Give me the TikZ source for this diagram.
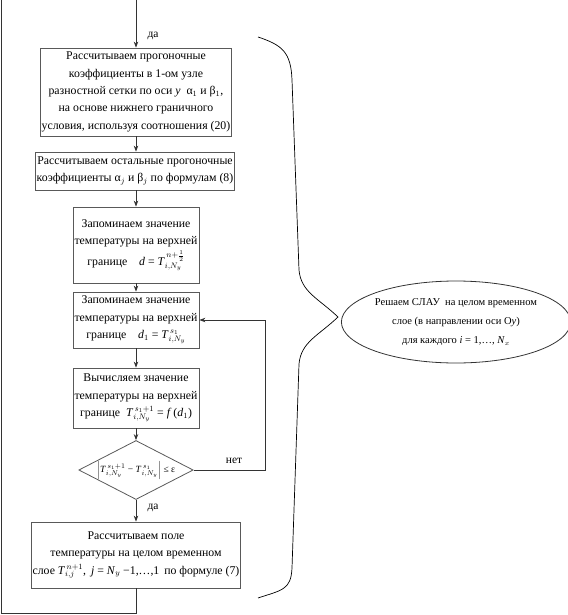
\documentclass[tikz,border=0pt]{standalone}
\usepackage{fontspec}
\setmainfont{Liberation Serif}
\usetikzlibrary{shapes.geometric,arrows.meta}
\begin{document}
\begin{tikzpicture}[x=1pt,y=-1pt,
  box/.style={draw=black!65, line width=0.8pt, align=center, inner sep=1pt,
    font=\fontsize{11.8}{17.4}\selectfont},
  conn/.style={draw=black!80, line width=0.8pt},
  arr/.style={conn, -{Stealth[length=6pt,width=4.5pt]}},
  lbl/.style={font=\fontsize{11.5}{12}\selectfont, inner sep=0pt}]
\useasboundingbox (0,0) rectangle (567,615);

\node[box, minimum width=188pt, minimum height=88pt] (b1) at (136,92)
 {Рассчитываем прогоночные\\коэффициенты в 1-ом узле\\разностной сетки по оси \textit{y}\enspace α$_1$ и β$_1$,\\на основе нижнего граничного\\условия, используя соотношения (20)};

\node[box, minimum width=196pt, minimum height=38pt] (b2) at (135,171)
 {Рассчитываем остальные прогоночные\\коэффициенты α$_j$ и β$_j$ по формулам (8)};

\node[box, minimum width=126pt, minimum height=76pt] (b3) at (136,245)
 {Запоминаем значение\\температуры на верхней\\[3pt]границе\quad \textit{d} = \textit{T}$^{\,n+\frac{1}{2}}_{i,N_y}$};

\node[box, minimum width=126pt, minimum height=56pt] (b4) at (136,320)
 {Запоминаем значение\\температуры на верхней\\границе\quad \textit{d}$_1$ = \textit{T}$^{\,s_1}_{i,N_y}$};

\node[box, minimum width=126pt, minimum height=60pt] (b5) at (136,398)
 {Вычисляем значение\\температуры на верхней\\границе\enspace \textit{T}$^{\,s_1+1}_{i,N_y}$ = \textit{f}\,(\textit{d}$_1$)};

\node[draw=black!65, line width=0.8pt, diamond, aspect=2, inner sep=0pt,
  minimum width=108pt, minimum height=59pt, font=\fontsize{9.5}{11}\selectfont] (dia) at (136,470)
 {$\left|\mbox{\textit{T}$^{\,s_1+1}_{i,N_y}$ − \textit{T}$^{\,s_1}_{i,N_y}$}\right|$ ≤ ε};

\node[box, minimum width=202pt, minimum height=66pt] (b6) at (136,555)
 {Рассчитываем поле\\температуры на целом временном\\слое \textit{T}$^{\,n+1}_{i,j}$, \,\textit{j} = \textit{N}$_y$ −1,…,1\, по формуле (7)};

\node[draw=black!80, line width=0.8pt, ellipse, inner sep=0pt, minimum width=218pt, minimum height=82pt,
  align=center, font=\fontsize{10.5}{19}\selectfont] (ell) at (456,322)
 {Решаем СЛАУ\enspace на целом временном\\слое (в направлении оси O\textit{y})\\для каждого \textit{i} = 1,…, \textit{N}$_x$};

% connectors
\coordinate (top) at (136,0);
\draw[arr] (top) -- (b1.north);
\node[lbl] (da1) at (153,36) {да};
\draw[arr] (b1.south) -- (b2.north -| b1.south);
\draw[arr] (b2.south -| b3.north) -- (b3.north);
\draw[arr] (b3.south) -- (b4.north);
\draw[arr] (b4.south) -- (b5.north);
\draw[arr] (b5.south) -- (dia.north);
\draw[arr] (dia.south) -- (b6.north);
\node[lbl] (da2) at (153,508) {да};

\coordinate (fbR) at (265,470);
\draw[arr] (dia.east) -- (fbR) -- (fbR |- b4.east) -- (b4.east);
\node[lbl] (net) at (234,461) {нет};

\coordinate (bl) at (1,613);
\coordinate (tl) at (1,0);
\draw[conn] (b6.south) -- (b6.south |- bl) -- (bl) -- (tl);

% brace
\draw[line width=0.7pt] (258,37) .. controls (282,45) and (291,52) .. (292,80)
  -- (299,270) .. controls (301,292) and (318,298) .. (338,317)
  .. controls (318,336) and (301,342) .. (299,364)
  -- (292,568) .. controls (291,590) and (282,590) .. (258,598);
\end{tikzpicture}
\end{document}
